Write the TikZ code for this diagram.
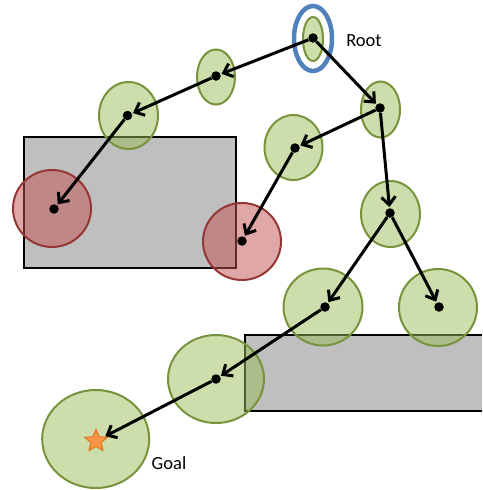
\documentclass[tikz,border=0pt]{standalone}
\usepackage{fontspec}
\setmainfont{Carlito}
\usetikzlibrary{arrows.meta,shapes.geometric}

\definecolor{zonegreen}{HTML}{9BBB59}
\definecolor{zoneedge}{HTML}{77933C}
\definecolor{badred}{HTML}{C0504D}
\definecolor{badedge}{HTML}{953735}
\definecolor{ringblue}{HTML}{4F81BD}
\definecolor{wallgray}{HTML}{BFBFBF}
\definecolor{goalorange}{HTML}{F79646}
\definecolor{goaledge}{HTML}{E46C0A}

\begin{document}
\begin{tikzpicture}[x=1pt,y=-1pt,
    zone/.style={ellipse,draw=zoneedge,line width=2pt,fill=zonegreen,fill opacity=0.5,inner sep=0pt},
    badzone/.style={ellipse,draw=badedge,line width=2pt,fill=badred,fill opacity=0.5,inner sep=0pt},
    dot/.style={circle,fill=black,minimum size=9.5pt,inner sep=0pt},
    edge/.style={line width=3pt,-{Straight Barb[length=8pt,width=14pt]},shorten >=1pt},
    wall/.style={fill=wallgray,draw=black,line width=2.6pt},
    tag/.style={font=\fontsize{18.5}{22}\selectfont}]
  \useasboundingbox (0,0) rectangle (482,490);
  % obstacles
  \draw[wall] (24,137) rectangle (236,268);
  \fill[wallgray] (245,335) rectangle (482,411);
  \draw[line width=2.6pt] (482,335) -- (245,335) -- (245,411) -- (482,411);
  % reachable zones
  \node[zone,minimum width=20pt,minimum height=44pt] (zroot) at (313,39) {};
  \node[zone,minimum width=38pt,minimum height=55pt] (za) at (216,77) {};
  \node[zone,minimum width=39pt,minimum height=56pt] (zb) at (380.5,109.5) {};
  \node[zone,minimum width=58pt,minimum height=65pt] (zc) at (293.5,147.5) {};
  \node[zone,minimum width=59pt,minimum height=67pt] (zd) at (128.5,115.5) {};
  \node[badzone,minimum width=78pt,minimum height=77pt] (ze) at (52,208.5) {};
  \node[badzone,minimum width=78pt,minimum height=77pt] (zf) at (242,241.5) {};
  \node[zone,minimum width=59pt,minimum height=66pt] (zg) at (390.5,214) {};
  \node[zone,minimum width=79pt,minimum height=77pt] (zh) at (323,307) {};
  \node[zone,minimum width=78pt,minimum height=77pt] (zi) at (438,307.5) {};
  \node[zone,minimum width=96pt,minimum height=88pt] (zj) at (216,379) {};
  \node[zone,minimum width=107pt,minimum height=98pt] (zgoal) at (95.7,439) {};
  \node[ellipse,draw=ringblue,line width=4.5pt,minimum width=38pt,minimum height=65pt] (ring) at (313,38.5) {};
  % tree nodes
  \node[dot] (root) at (313,38) {};
  \node[dot] (a) at (216,76) {};
  \node[dot] (b) at (380,108) {};
  \node[dot] (c) at (295,148) {};
  \node[dot] (d) at (127.5,115.5) {};
  \node[dot] (e) at (54,209) {};
  \node[dot] (f) at (242,241) {};
  \node[dot] (g) at (390,213) {};
  \node[dot] (h) at (325,307) {};
  \node[dot] (i) at (439,307) {};
  \node[dot] (j) at (216,379) {};
  \node[star,star points=5,star point ratio=2.2,fill=goalorange,draw=goaledge,line width=0.8pt,
        minimum size=24pt,inner sep=0pt] (goal) at (96,441) {};
  % branches
  \draw[edge] (root) -- (a);
  \draw[edge] (a) -- (d);
  \draw[edge] (d) -- (e);
  \draw[edge] (root) -- (b);
  \draw[edge] (b) -- (c);
  \draw[edge] (c) -- (f);
  \draw[edge] (b) -- (g);
  \draw[edge] (g) -- (h);
  \draw[edge] (g) -- (i);
  \draw[edge] (h) -- (j);
  \draw[edge] (j) -- (goal);
  % labels
  \node[tag] (rootlabel) at (364,41) {Root};
  \node[tag] (goallabel) at (169,463) {Goal};
\end{tikzpicture}
\end{document}
